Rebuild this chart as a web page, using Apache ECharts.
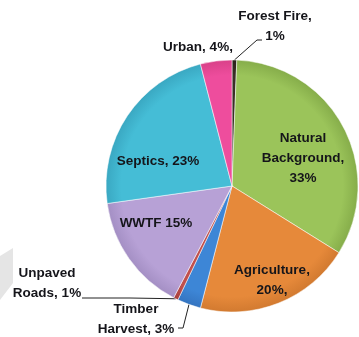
<!DOCTYPE html>
<html><head><meta charset="utf-8">
<script src="https://cdn.jsdelivr.net/npm/echarts@6/dist/echarts.min.js"></script>
<style>html,body{margin:0;padding:0;background:#fff}#c{width:359px;height:337px}</style>
</head><body><div id="c"></div>
<script>
const categories = ['Forest Fire','Natural Background','Agriculture','Timber Harvest','Unpaved Roads','WWTF','Septics','Urban'];
const values = [0.6, 33, 20, 3, 0.6, 15, 23, 4];
const labelTexts = ['Forest Fire,\n1%','Natural\nBackground,\n33%','Agriculture,\n20%,','Timber\nHarvest, 3%','Unpaved\nRoads, 1%','WWTF 15%','Septics, 23%','Urban, 4%,'];
const colors = ['#3a2f26','#9bc45a','#e6893a','#3d86d6','#c0504d','#b7a1d6','#45bdd6','#ee4d9d'];
const edgeColors = ['#2a211a','#86ad4a','#d27a30','#3474c0','#a8403d','#a48fc4','#3aa8c2','#d94189'];
const inside = [false,true,true,false,false,true,true,false];

// label placement (layout only)
const labelPos = [[275,26],[303,158],[272,280],[136,319],[47,283],[156,223],[158,161],[198,47]];

const CX=232, CY=186, R=126;
const chart = echarts.init(document.getElementById('c'));
chart.setOption({
  animation:false,
  graphic:[{type:'polygon',shape:{points:[[0,256],[13,248],[13,283],[0,300]]},style:{fill:'#e5e5e5'},z:-1}],
  series:[{
    type:'pie',
    center:[CX,CY],
    radius:R,
    startAngle:90,
    clockwise:true,
    itemStyle:{borderColor:'rgba(255,255,255,0.5)',borderWidth:1},
    label:{fontFamily:'Liberation Sans, Arial',fontWeight:'bold',fontSize:13.5,color:'#15151a',lineHeight:20,align:'center'},
    labelLine:{lineStyle:{color:'#222',width:1},smooth:false,length:10,length2:10},
    data:categories.map((n,i)=>({
      name:n,value:values[i],
      itemStyle:{color:{type:'radial',x:CX,y:CY,r:R,global:true,colorStops:[
        {offset:0,color:colors[i]},{offset:0.88,color:colors[i]},{offset:1,color:edgeColors[i]}]}},
      label:{show:true,position:inside[i]?'inside':'outside',formatter:labelTexts[i]},
      labelLine:{show:(i===0||i===3||i===4)}
    })),
    labelLayout:function(p){
      const i=p.dataIndex;
      const pos=labelPos[i];
      const r={x:pos[0],y:pos[1],align:'center',verticalAlign:'middle'};
      const start=p.labelLinePoints?p.labelLinePoints[0]:null;
      if(start){
        if(i===0) r.labelLinePoints=[start,[257,40],[262,40]];
        if(i===3) r.labelLinePoints=[start,[183,328],[178,328]];
        if(i===4) r.labelLinePoints=[start,[130,298],[82,298]];
      }
      return r;
    }
  }]
});
</script></body></html>
